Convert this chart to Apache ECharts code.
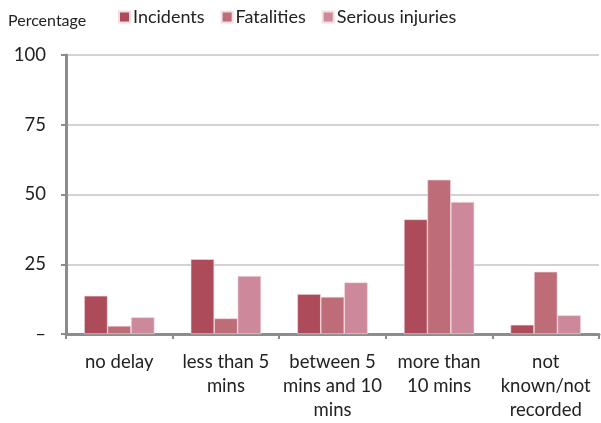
<!DOCTYPE html>
<html>
<head>
<meta charset="utf-8">
<script src="https://cdn.jsdelivr.net/npm/echarts@6/dist/echarts.min.js"></script>
<style>
html, body { margin: 0; padding: 0; background: #fff; }
#chart { width: 601px; height: 423px; }
</style>
</head>
<body>
<div id="chart"></div>
<script>
var categories = ['no delay', 'less than 5\nmins', 'between 5\nmins and 10\nmins', 'more than\n10 mins', 'not\nknown/not\nrecorded'];
var incidents = [13.7, 26.8, 14.3, 41.1, 3.3];
var fatalities = [2.9, 5.6, 13.3, 55.3, 22.3];
var seriousInjuries = [6.0, 20.8, 18.5, 47.3, 6.7];

var font = 'Lato';
var myChart = echarts.init(document.getElementById('chart'));

var option = {
    animation: false,
    color: ['#ad4b5a', '#be6c78', '#cd889b'],
    textStyle: { fontFamily: font },
    legend: {
        left: 118,
        top: 8,
        padding: 0,
        itemWidth: 11,
        itemHeight: 11,
        itemGap: 16,
        icon: 'rect',
        textStyle: { fontFamily: font, fontSize: 18, color: '#222', padding: [0, 0, 0, -2] },
        data: ['Incidents', 'Fatalities', 'Serious injuries']
    },
    grid: {
        left: 66,
        right: 2,
        top: 55,
        bottom: 89
    },
    xAxis: {
        type: 'category',
        data: categories,
        axisLine: { lineStyle: { color: '#8c8c8c', width: 3 } },
        axisTick: { show: true, length: 5, lineStyle: { color: '#8c8c8c', width: 2 } },
        axisLabel: {
            interval: 0,
            margin: 16,
            fontFamily: font,
            fontSize: 18.5,
            lineHeight: 24,
            color: '#222'
        }
    },
    yAxis: {
        type: 'value',
        name: 'Percentage',
        nameLocation: 'end',
        nameGap: 26,
        nameTextStyle: { fontFamily: font, fontSize: 16, color: '#222', align: 'left', padding: [0, 0, 0, -58] },
        min: 0,
        max: 100,
        interval: 25,
        axisLine: { show: true, lineStyle: { color: '#8c8c8c', width: 3 } },
        axisTick: { show: true, length: 5, lineStyle: { color: '#8c8c8c', width: 2 } },
        splitLine: { lineStyle: { color: '#c4c4c4', width: 1.5 } },
        axisLabel: {
            margin: 20,
            fontFamily: font,
            fontSize: 18.5,
            color: '#222',
            formatter: function (v) { return v === 0 ? '\u2013' : v; }
        }
    },
    series: [
        {
            name: 'Incidents',
            type: 'bar',
            barGap: '0%',
            barCategoryGap: '34%',
            itemStyle: { borderColor: '#f3dde1', borderWidth: 0.6 },
            data: incidents
        },
        {
            name: 'Fatalities',
            type: 'bar',
            itemStyle: { borderColor: '#f3dde1', borderWidth: 0.6 },
            data: fatalities
        },
        {
            name: 'Serious injuries',
            type: 'bar',
            itemStyle: { borderColor: '#f3dde1', borderWidth: 0.6 },
            data: seriousInjuries
        }
    ]
};
myChart.setOption(option);

window.onresize = function () {
    myChart.resize();
};
</script>
</body>
</html>
